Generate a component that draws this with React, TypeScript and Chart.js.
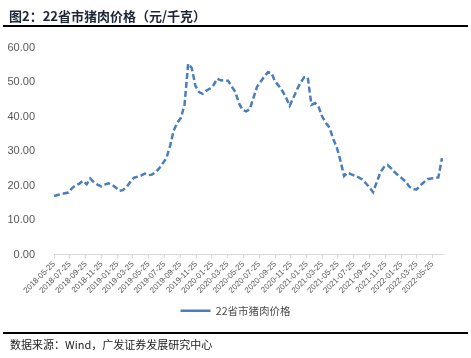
import React, { useEffect, useRef } from "react";
import { Chart, registerables } from "chart.js";

Chart.register(...registerables);

// ---- data ----
const seriesName = "22省市猪肉价格";
const startDate = "2018-05-25"; // first observation
const stepDays = 14; // biweekly sampling of the weekly series
const axisEndDate = "2022-07-05";
const prices = [
  17.0, 17.3, 17.6, 17.8, 18.0, 19.3, 20.1, 20.6, 21.4, 20.4,
  22.1, 21.0, 20.3, 19.8, 20.3, 20.7, 20.3, 19.5, 18.5, 18.7,
  19.6, 21.0, 22.3, 22.6, 22.9, 23.5, 23.1, 23.2, 23.9, 25.0,
  26.5, 28.0, 31.5, 36.0, 38.3, 39.7, 43.5, 55.4, 54.2, 49.0,
  47.2, 46.7, 47.6, 48.2, 49.2, 51.1, 50.6, 50.5, 50.5, 48.8,
  47.3, 44.0, 42.0, 41.6, 42.2, 45.5, 48.7, 50.2, 51.7, 53.0,
  52.7, 50.2, 49.0, 47.5, 45.6, 43.2, 45.5, 47.9, 49.9, 51.5,
  51.4, 43.5, 44.0, 42.8, 40.0, 38.2, 36.8, 33.6, 31.1, 27.3,
  22.8, 23.8, 23.3, 22.9, 22.4, 21.8, 20.7, 19.5, 18.1, 21.0,
  23.8, 25.4, 26.0, 25.0, 23.9, 22.9, 22.1, 21.2, 19.7, 19.0,
  18.9, 20.0, 21.0, 21.9, 22.1, 22.2, 22.4, 28.0,
];
const tickLabels = [
  "2018-05-25", "2018-07-25", "2018-09-25", "2018-11-25",
  "2019-01-25", "2019-03-25", "2019-05-25", "2019-07-25", "2019-09-25", "2019-11-25",
  "2020-01-25", "2020-03-25", "2020-05-25", "2020-07-25", "2020-09-25", "2020-11-25",
  "2021-01-25", "2021-03-25", "2021-05-25", "2021-07-25", "2021-09-25", "2021-11-25",
  "2022-01-25", "2022-03-25", "2022-05-25",
];
const yTicks = [0, 10, 20, 30, 40, 50, 60];

const dayOffset = (s: string) =>
  (Date.parse(s) - Date.parse(startDate)) / 86400000;

const LINE_COLOR = "#4a7ebb";
const TICK_FONT = "'Liberation Sans', Arial, sans-serif";
const CJK_FONT = "'Noto Sans CJK SC', 'Noto Sans', sans-serif";

// centre the legend on the whole canvas width rather than the padded area
const legendCenterPlugin = {
  id: "legendCenter",
  afterLayout(chart: any) {
    if (chart.legend) chart.legend.right = chart.width;
  },
};

export default function App() {
  const ref = useRef<HTMLCanvasElement | null>(null);

  useEffect(() => {
    if (!ref.current) return;
    const points = prices.map((y, i) => ({ x: i * stepDays, y }));
    const chart = new Chart(ref.current, {
      type: "line",
      data: {
        datasets: [
          {
            label: seriesName,
            data: points,
            borderColor: LINE_COLOR,
            backgroundColor: LINE_COLOR,
            borderWidth: 2.5,
            borderDash: [6, 3],
            pointRadius: 0,
            tension: 0,
            fill: false,
          },
        ],
      },
      plugins: [legendCenterPlugin],
      options: {
        animation: false,
        responsive: false,
        maintainAspectRatio: false,
        layout: { padding: { top: 48, right: 28, left: 0, bottom: 32 } },
        plugins: {
          tooltip: { enabled: false },
          legend: {
            display: true,
            position: "bottom",
            labels: {
              usePointStyle: true,
              pointStyle: "line",
              pointStyleWidth: 30,
              color: "#4a4a4a",
              font: { family: CJK_FONT, size: 10.5 },
              padding: 10,
            },
          },
        },
        scales: {
          x: {
            type: "linear",
            min: 0,
            max: dayOffset(axisEndDate),
            afterBuildTicks: (scale: any) => {
              scale.ticks = tickLabels.map((d) => ({ value: dayOffset(d) }));
            },
            afterFit: (scale: any) => {
              scale.height = 41;
            },
            ticks: {
              autoSkip: false,
              minRotation: 45,
              maxRotation: 45,
              padding: 1,
              color: "#595959",
              font: { family: TICK_FONT, size: 8 },
              callback: (_v: any, i: number) => tickLabels[i],
            },
            grid: {
              display: true,
              drawOnChartArea: false,
              drawTicks: true,
              tickLength: 4,
              color: "#d9d9d9",
            },
            border: { display: true, color: "#d9d9d9", width: 1 },
          },
          y: {
            min: 0,
            max: 60,
            afterBuildTicks: (scale: any) => {
              scale.ticks = yTicks.map((v) => ({ value: v }));
            },
            afterFit: (scale: any) => {
              scale.width = 54;
            },
            ticks: {
              padding: 11,
              color: "#595959",
              font: { family: TICK_FONT, size: 11 },
              callback: (v: any) => Number(v).toFixed(2),
            },
            grid: { display: false },
            border: { display: false },
          },
        },
      },
    });
    return () => chart.destroy();
  }, []);

  return (
    <div
      style={{
        position: "absolute",
        left: 0,
        top: 0,
        width: 471,
        height: 358,
        background: "#ffffff",
        overflow: "hidden",
      }}
    >
      <canvas
        ref={ref}
        width={471}
        height={358}
        style={{ position: "absolute", left: 0, top: 0, width: 471, height: 358 }}
      />
      <div
        style={{
          position: "absolute",
          left: 9,
          top: 7,
          fontFamily: CJK_FONT,
          fontWeight: 700,
          fontSize: 13,
          lineHeight: "17px",
          color: "#1e2536",
          whiteSpace: "nowrap",
        }}
      >
        图2：22省市猪肉价格（元/千克）
      </div>
      <div
        style={{
          position: "absolute",
          left: 3,
          top: 25,
          width: 465,
          height: 2,
          background: "#000000",
        }}
      />
      <div
        style={{
          position: "absolute",
          left: 3,
          top: 332,
          width: 465,
          height: 2,
          background: "#000000",
        }}
      />
      <div
        style={{
          position: "absolute",
          left: 10,
          top: 337,
          fontFamily: CJK_FONT,
          fontSize: 11,
          lineHeight: "15px",
          color: "#222222",
          whiteSpace: "nowrap",
        }}
      >
        数据来源：Wind，广发证券发展研究中心
      </div>
    </div>
  );
}
